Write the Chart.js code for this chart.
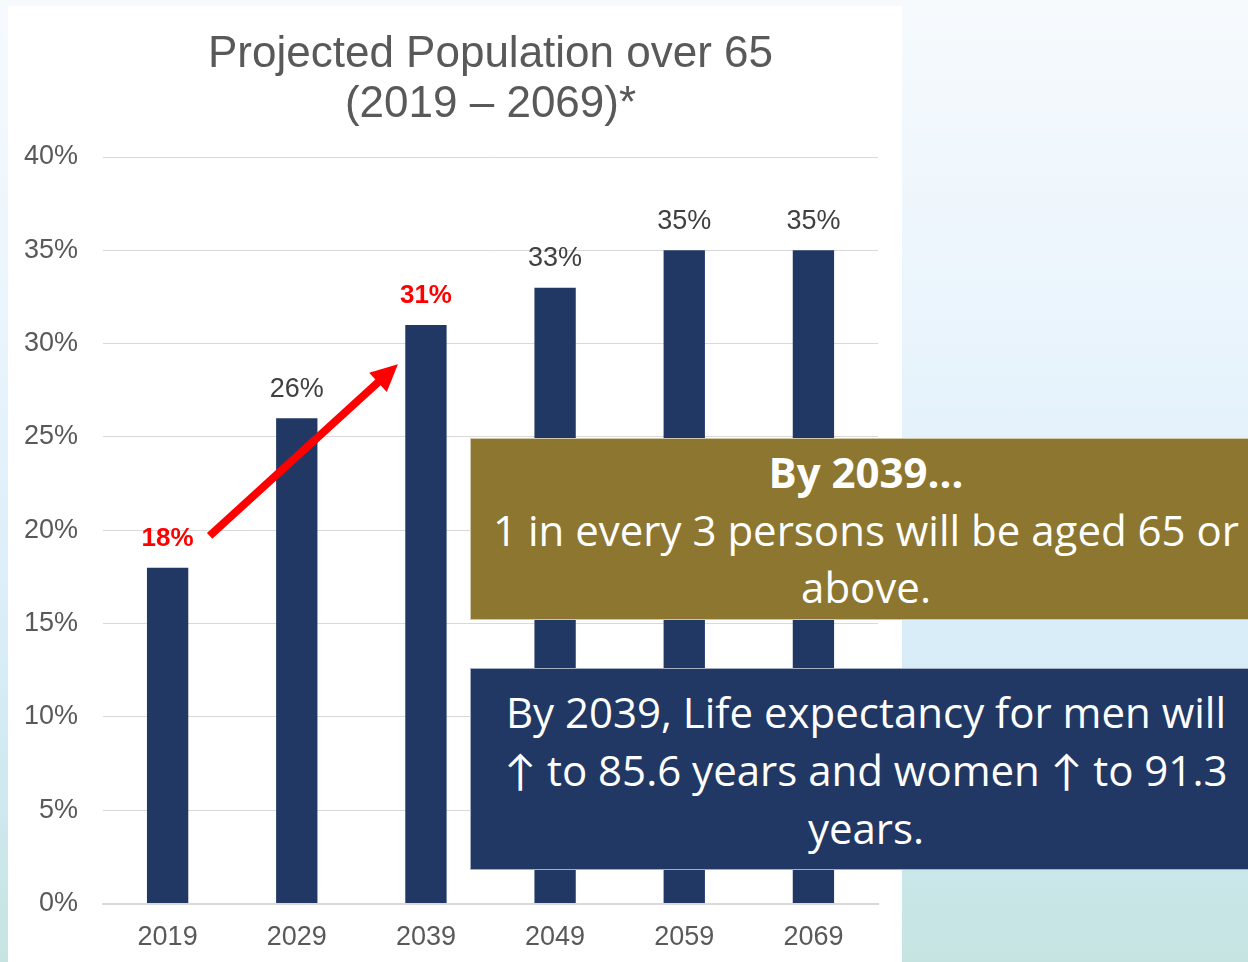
<!DOCTYPE html>
<html>
<head>
<meta charset="utf-8">
<script src="https://cdn.jsdelivr.net/npm/chart.js@4.4.1/dist/chart.umd.min.js"></script>
<style>
  html, body { margin: 0; padding: 0; }
  body {
    width: 1248px; height: 962px; overflow: hidden; position: relative;
    background: linear-gradient(180deg, #f6fafd 0%, #e9f4fc 35%, #d9edf9 65%, #cde8ee 85%, #c5e4e1 100%);
    font-family: "Liberation Sans", Arial, sans-serif;
  }
  .panel { position: absolute; left: 8px; top: 6px; width: 894px; height: 956px; background: #fff; overflow: hidden; }
  .box {
    position: absolute; left: 470px; width: 800px; color: #fff; text-align: center;
    font-family: "Open Sans", Lato, sans-serif; white-space: nowrap;
    box-sizing: border-box; border: 1px solid rgba(255,255,255,0.6);
  }
  .gold { top: 438px; height: 182px; background: #8c7630; font-size: 42px; line-height: 57.5px; padding-top: 4px; }
  .navy { top: 668px; height: 202px; background: #213864; font-size: 42px; line-height: 58px; padding-top: 14px; }
  .box span { display: block; width: 790px; }
</style>
</head>
<body>
<div class="panel"><canvas id="myChart" width="894" height="977"></canvas></div>
<div class="box gold"><span><b>By 2039…</b><br>1 in every 3 persons will be aged 65 or<br>above.</span></div>
<div class="box navy"><span>By 2039, Life expectancy for men will<br>↑ to 85.6 years and women ↑ to 91.3<br>years.</span></div>
<script>
const years = ['2019', '2029', '2039', '2049', '2059', '2069']
const share = [18, 26, 31, 33, 35, 35] // % of population aged 65+
const highlight = [0, 2] // labels drawn red and bold
const yTicks = [0, 5, 10, 15, 20, 25, 30, 35, 40]
const titleLines = ['Projected Population over 65', '(2019 – 2069)*']

const FONT = '"Liberation Sans", Arial'

// title centred over the plot area, not the whole canvas
const plotTitle = {
    id: 'plotTitle',
    afterDraw(chart) {
        const ctx = chart.ctx
        const cx = (chart.chartArea.left + chart.chartArea.right) / 2
        ctx.save()
        ctx.fillStyle = '#595959'
        ctx.font = '44px ' + FONT
        ctx.textAlign = 'center'
        ctx.textBaseline = 'middle'
        titleLines.forEach(function(t, i) {
            ctx.fillText(t, cx, 49 + i * 50)
        })
        ctx.restore()
    }
}

const barLabels = {
    id: 'barLabels',
    afterDatasetsDraw(chart) {
        const ctx = chart.ctx
        const meta = chart.getDatasetMeta(0)
        ctx.save()
        ctx.textAlign = 'center'
        ctx.textBaseline = 'middle'
        meta.data.forEach(function(bar, i) {
            const red = highlight.includes(i)
            ctx.fillStyle = red ? '#ff0000' : '#404040'
            ctx.font = red ? 'bold 26px ' + FONT : '27px ' + FONT
            ctx.fillText(share[i] + '%', bar.x, bar.y - 29)
        })
        ctx.restore()
    }
}

// red arrow from the 2019 label up to the 2039 bar
const arrow = {
    id: 'arrow',
    afterDatasetsDraw(chart) {
        const ctx = chart.ctx
        const x = chart.scales.x, y = chart.scales.y
        const x0 = x.getPixelForValue(0) + 42, y0 = y.getPixelForValue(19.7)
        const x1 = x.getPixelForValue(2) - 28, y1 = y.getPixelForValue(28.9)
        const ang = Math.atan2(y1 - y0, x1 - x0)
        const head = 30
        ctx.save()
        ctx.strokeStyle = '#ff0000'
        ctx.fillStyle = '#ff0000'
        ctx.lineWidth = 8
        ctx.beginPath()
        ctx.moveTo(x0, y0)
        ctx.lineTo(x1 - Math.cos(ang) * head * 0.8, y1 - Math.sin(ang) * head * 0.8)
        ctx.stroke()
        ctx.beginPath()
        ctx.moveTo(x1, y1)
        ctx.lineTo(x1 - head * Math.cos(ang - 0.45), y1 - head * Math.sin(ang - 0.45))
        ctx.lineTo(x1 - head * Math.cos(ang + 0.45), y1 - head * Math.sin(ang + 0.45))
        ctx.closePath()
        ctx.fill()
        ctx.restore()
    }
}

const chart = new Chart(document.getElementById('myChart').getContext('2d'), {
    type: 'bar',
    data: {
        labels: years,
        datasets: [{
            data: share,
            backgroundColor: '#213864',
            barPercentage: 0.4,
            categoryPercentage: 0.8
        }]
    },
    options: {
        responsive: false,
        animation: false,
        layout: { padding: { left: -9, right: 24, top: 151, bottom: 11 } },
        plugins: {
            legend: { display: false },
            tooltip: { enabled: false },
            title: { display: false }
        },
        scales: {
            x: {
                grid: { display: false, drawTicks: false },
                border: { color: '#d9d9d9', width: 2 },
                ticks: { color: '#595959', font: { family: FONT, size: 27 }, padding: 18 }
            },
            y: {
                min: 0,
                max: 40,
                afterBuildTicks(scale) { scale.ticks = yTicks.map(v => ({ value: v })) },
                border: { display: false },
                grid: { color: '#d9d9d9', drawTicks: false },
                ticks: {
                    color: '#595959',
                    font: { family: FONT, size: 27 },
                    padding: 25,
                    callback: v => v + '%'
                }
            }
        }
    },
    plugins: [barLabels, arrow, plotTitle]
})
</script>
</body>
</html>
